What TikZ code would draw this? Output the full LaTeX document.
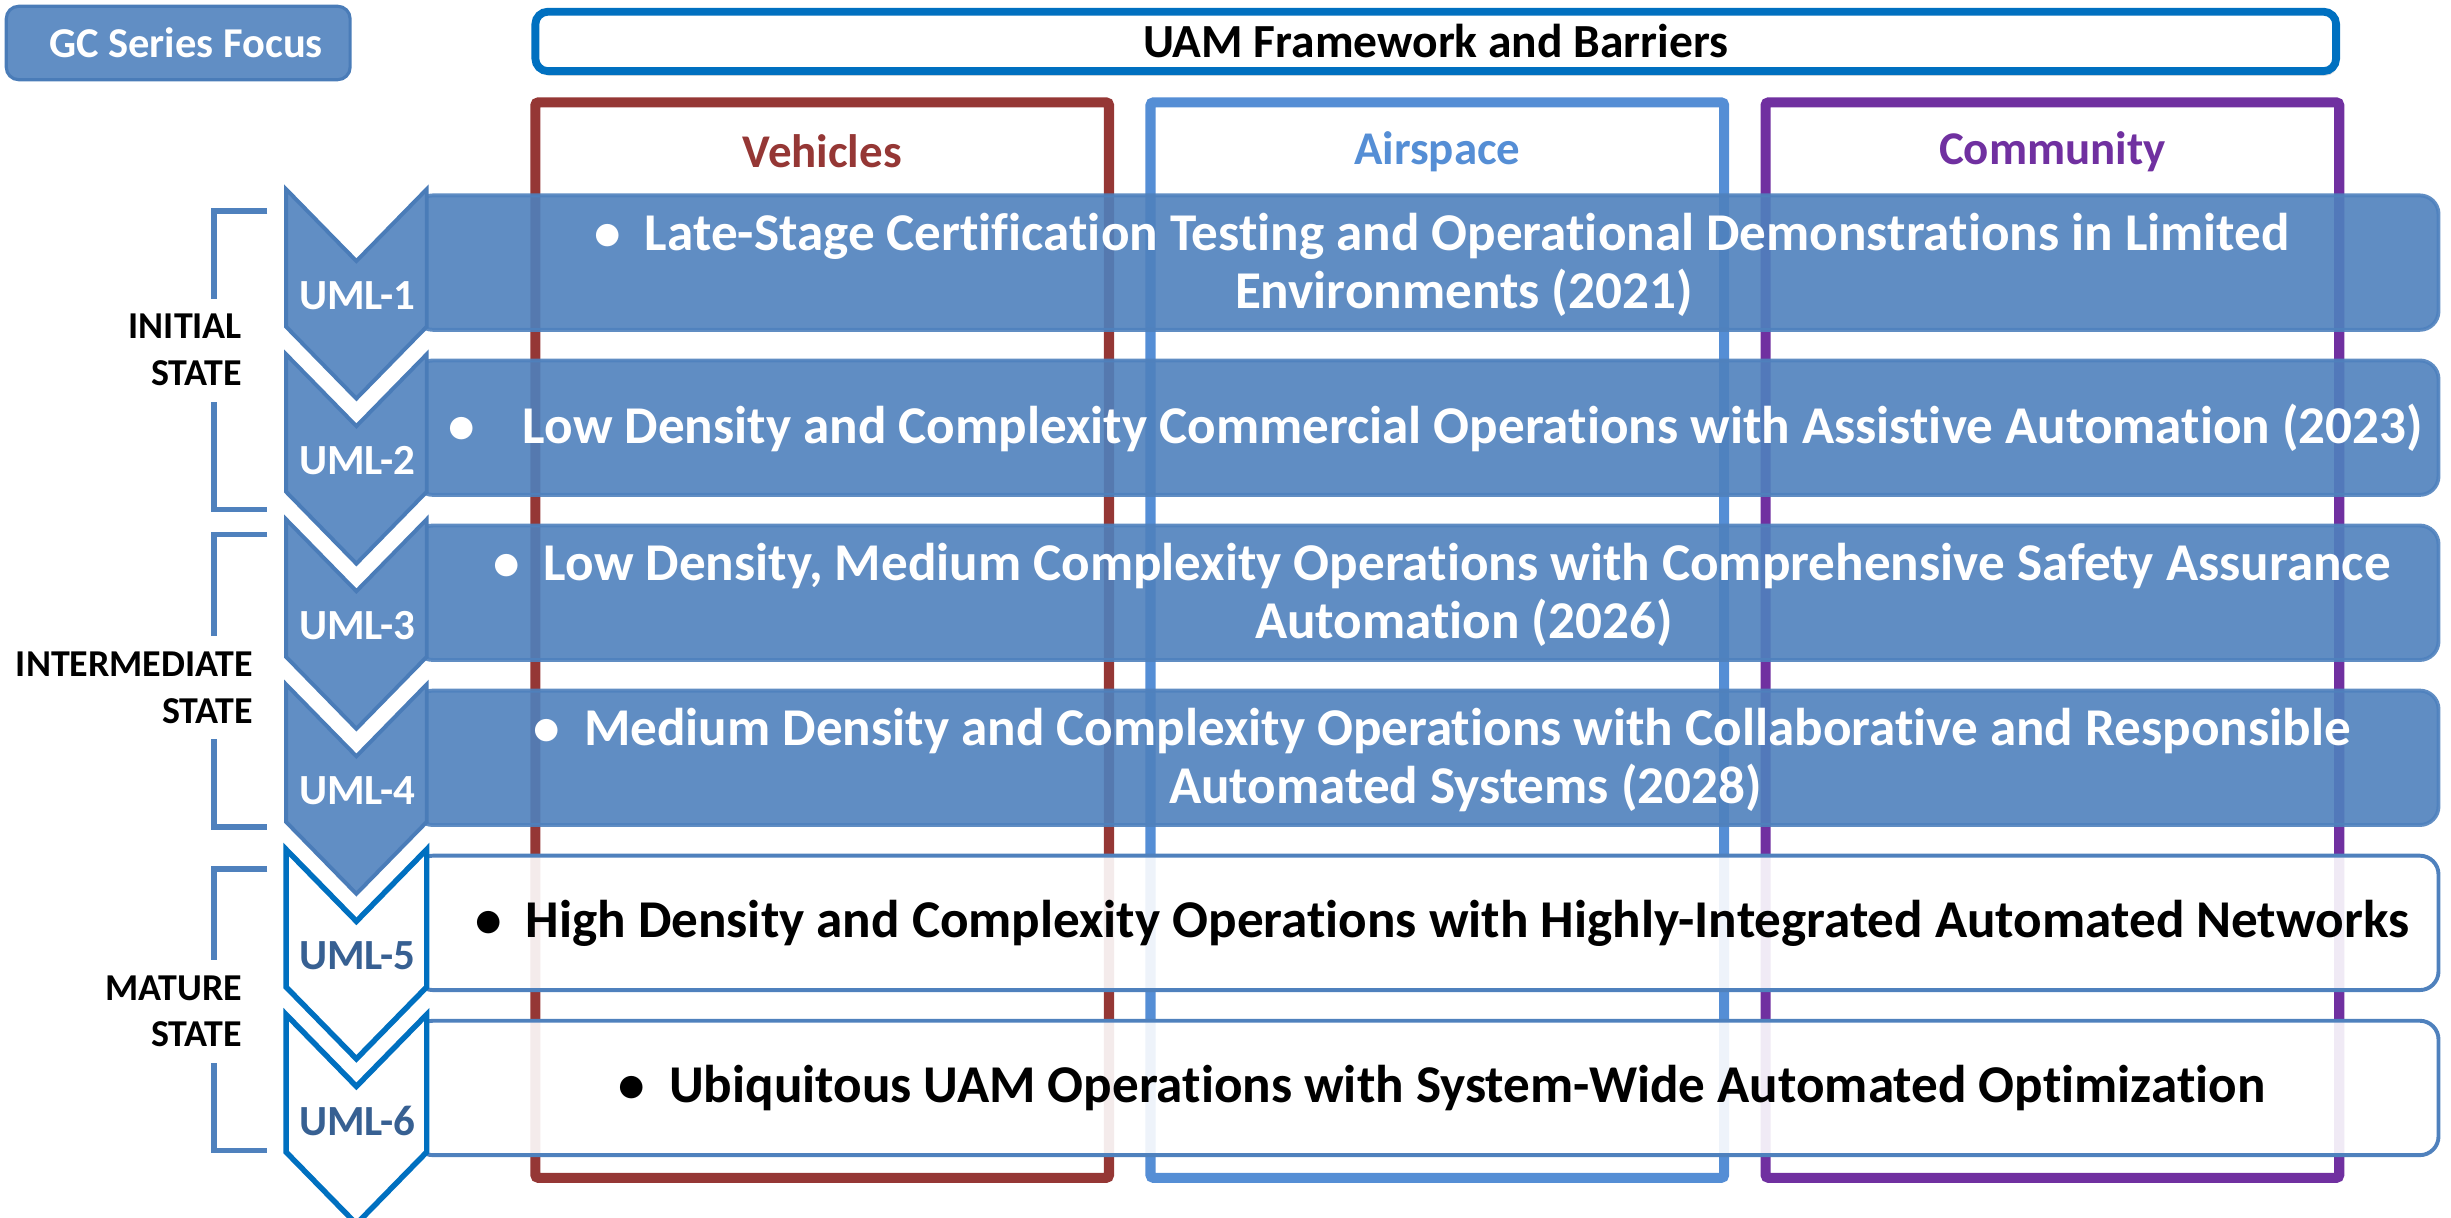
\documentclass[tikz,border=0pt]{standalone}
\usepackage{fontspec}
\setmainfont{Carlito}[Ligatures=CommonOff]
\usetikzlibrary{shadows}

\definecolor{umlblue}{HTML}{4F81BD}
\definecolor{umlfill}{HTML}{618EC4}
\definecolor{umledge}{HTML}{4A7CB8}
\definecolor{framebd}{HTML}{0070C0}
\definecolor{vehred}{HTML}{953735}
\definecolor{airblue}{HTML}{558ED5}
\definecolor{commpurple}{HTML}{7030A0}
\definecolor{umldark}{HTML}{376092}

\begin{document}
\begin{tikzpicture}[x=1pt,y=-1pt,
    rowbar/.style={rounded corners=12pt, line width=2.5pt, draw=umlblue,
      minimum width=1295pt, minimum height=86pt, inner sep=0pt},
    bluebar/.style={rowbar, fill=umlblue, opacity=0.9},
    whitebar/.style={rowbar, fill=white, fill opacity=0.9},
    rowtext/.style={font=\fontsize{34}{37}\selectfont\bfseries, align=center, inner sep=0pt},
    colframe/.style={line width=6.5pt, rounded corners=2pt, minimum width=367pt,
      minimum height=688pt, inner sep=0pt},
    collabel/.style={font=\fontsize{30}{36}\selectfont\bfseries},
    chevblue/.style={fill=umlfill, draw=umledge, line width=2.5pt, line join=miter},
    chevwhite/.style={fill=white, draw=framebd, line width=3.5pt, line join=miter},
    umltext/.style={font=\fontsize{27.5}{30}\selectfont\bfseries},
    bracket/.style={draw=umlblue, line width=3.5pt},
    statetext/.style={font=\fontsize{24.3}{30}\selectfont\bfseries, align=right,
      fill=white, inner xsep=2pt, inner ysep=10pt, anchor=east}
  ]
  \useasboundingbox (0,0) rectangle (1568,779);

  % the three barrier columns
  \node[colframe, draw=vehred] (veh) at (526,409.5) {};
  \node[colframe, draw=airblue] (air) at (919.5,409.5) {};
  \node[colframe, draw=commpurple] (comm) at (1313,409.5) {};
  \node[collabel, text=vehred] (vehlbl) at (526,97) {Vehicles};
  \node[collabel, text=airblue] (airlbl) at (919.5,97) {Airspace};
  \node[collabel, text=commpurple] (commlbl) at (1313,97) {Community};

  % maturity levels
  \def\rowtop{125}
  \def\rowstep{105.6}
  \foreach \k in {1,...,6} {
    \pgfmathsetmacro\cy{\rowtop+(\k-1)*\rowstep}
    \ifnum\k<5
      \node[bluebar] (bar\k) at (912.5,\cy+43) {};
    \else
      \node[whitebar] (bar\k) at (912.5,\cy+43) {};
    \fi
  }
  \foreach \k in {1,...,6} {
    \pgfmathsetmacro\cy{\rowtop-4+(\k-1)*\rowstep}
    \ifnum\k<5
      \draw[chevblue] (183,\cy) -- (228,\cy+46) -- (273,\cy) -- (273,\cy+88)
        -- (228,\cy+134) -- (183,\cy+88) -- cycle;
      \node[umltext, text=white] (uml\k) at (228.5,\cy+68) {UML-\k};
    \else
      \draw[chevwhite] (183,\cy) -- (228,\cy+46) -- (273,\cy) -- (273,\cy+88)
        -- (228,\cy+134) -- (183,\cy+88) -- cycle;
      \node[umltext, text=umldark] (uml\k) at (228.5,\cy+68) {UML-\k};
    \fi
  }

  \node[rowtext, text=white] (txt1) at ([xshift=10pt,yshift=-1.5pt]bar1.center)
    {\textbullet~ Late-Stage Certification Testing and Operational Demonstrations in Limited\\\hspace*{28pt}Environments (2021)};
  \node[rowtext, text=white] (txt2) at ([xshift=6pt]bar2.center)
    {\textbullet\hspace{0.9em}Low Density and Complexity Commercial Operations with Assistive Automation (2023)};
  \node[rowtext, text=white] (txt3) at ([xshift=10pt,yshift=-1.5pt]bar3.center)
    {\textbullet~ Low Density, Medium Complexity Operations with Comprehensive Safety Assurance\\\hspace*{28pt}Automation (2026)};
  \node[rowtext, text=white] (txt4) at ([xshift=10pt,yshift=-1.5pt]bar4.center)
    {\textbullet~ Medium Density and Complexity Operations with Collaborative and Responsible\\\hspace*{30pt}Automated Systems (2028)};
  \node[rowtext] (txt5) at ([xshift=10pt]bar5.center)
    {\textbullet~ High Density and Complexity Operations with Highly-Integrated Automated Networks};
  \node[rowtext] (txt6) at ([xshift=10pt]bar6.center)
    {\textbullet~ Ubiquitous UAM Operations with System-Wide Automated Optimization};

  % state brackets
  \draw[bracket] (171,135) -| (137,326) -- (171,326);
  \draw[bracket] (171,342) -| (137,529) -- (171,529);
  \draw[bracket] (171,556) -| (137,736) -- (171,736);
  \node[statetext] (initial) at (157,224) {INITIAL\\STATE};
  \node[statetext] (intermediate) at (164,440) {INTERMEDIATE\\STATE};
  \node[statetext] (mature) at (157,647) {MATURE\\STATE};

  % headers
  \node[draw=framebd, line width=5pt, rounded corners=8pt, fill=white,
    minimum width=1152pt, minimum height=38pt, inner sep=0pt,
    drop shadow={opacity=0.25, shadow xshift=1pt, shadow yshift=-3pt},
    font=\fontsize{30.4}{34}\selectfont\bfseries] (uam) at (918.5,26.5) {UAM Framework and Barriers};
  \node[draw=umledge, line width=2pt, rounded corners=8pt, fill=umlfill,
    minimum width=220pt, minimum height=47pt, inner sep=0pt, text=white,
    font=\fontsize{27.2}{30}\selectfont\bfseries] (gc) at (114,27.5) {\hspace{10pt}GC Series Focus};
\end{tikzpicture}
\end{document}
